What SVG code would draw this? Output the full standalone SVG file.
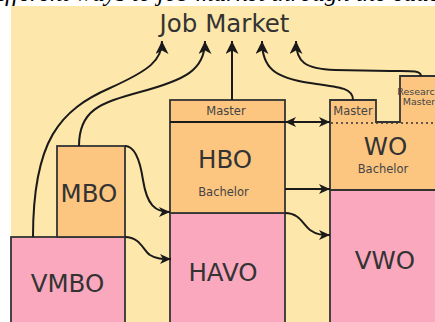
<svg xmlns="http://www.w3.org/2000/svg" width="435" height="322" viewBox="0 0 435 322">
<style>
.bg{fill:#fde7aa}
.pink{fill:#f9a8be;stroke:#333;stroke-width:1.8}
.orange{fill:#fcc681;stroke:#333;stroke-width:1.8}
.big{font-family:"DejaVu Sans",sans-serif;font-size:24.5px;fill:#333;text-anchor:middle}
.small{font-family:"DejaVu Sans",sans-serif;font-size:11.5px;fill:#444;text-anchor:middle}
.tiny{font-family:"DejaVu Sans",sans-serif;font-size:9.5px;fill:#444;text-anchor:middle}
.con{fill:none;stroke:#1a1a1a;stroke-width:2}
</style>
<defs>
<marker id="ah" markerUnits="userSpaceOnUse" markerWidth="14" markerHeight="13" refX="13" refY="6.5" orient="auto">
<path d="M0,0 L13,6.5 L0,13 L3.5,6.5 Z" fill="#1a1a1a"/>
</marker>
<marker id="ahs" markerUnits="userSpaceOnUse" markerWidth="12" markerHeight="10" refX="11" refY="5" orient="auto-start-reverse">
<path d="M0,0 L11,5 L0,10 L3,5 Z" fill="#1a1a1a"/>
</marker>
</defs>
<rect width="435" height="322" fill="#fff"/>
<text x="-20" y="1" font-family="Liberation Serif,serif" font-style="italic" font-size="25" fill="#000">Different ways to job market through the education system</text>
<rect class="bg" x="11" y="6" width="430" height="320"/>
<text class="big" x="224.5" y="32" font-size="26">Job Market</text>

<g id="vmbo"><rect class="pink" x="11" y="237" width="114" height="90"/><text class="big" x="67.5" y="292">VMBO</text></g>
<g id="mbo"><rect class="orange" x="57" y="146" width="68" height="91"/><text class="big" x="89" y="202">MBO</text></g>
<g id="havo"><rect class="pink" x="170" y="213" width="115" height="114"/><text class="big" x="223" y="281">HAVO</text></g>
<g id="hbo"><rect class="orange" x="170" y="100" width="115" height="113"/><line x1="170" y1="122" x2="285" y2="122" stroke="#1a1a1a" stroke-width="2"/><text class="small" x="226" y="115">Master</text><text class="big" x="225" y="168">HBO</text><text class="small" x="223.5" y="196">Bachelor</text></g>
<g id="vwo"><rect class="pink" x="330" y="190" width="110" height="137"/><text class="big" x="385" y="269">VWO</text></g>
<g id="wo"><path class="orange" d="M330,100 L376,100 L376,122 L400,122 L400,76 L440,76 L440,190 L330,190 Z"/><line x1="331" y1="123" x2="435" y2="123" stroke="#333" stroke-width="1.6" stroke-dasharray="2,3"/><text class="small" x="353" y="115">Master</text><text class="tiny" x="419" y="95">Research</text><text class="tiny" x="419" y="105">Master</text><text class="big" x="385.5" y="155">WO</text><text class="small" x="383" y="173">Bachelor</text></g>

<g id="connectors">
<path class="con" marker-end="url(#ah)" d="M33,237 C33,140 60,110 110,88 C150,70 162,60 162,41"/>
<path class="con" marker-end="url(#ah)" d="M79,146 C79,110 100,103 140,92 C185,80 205,70 205,41"/>
<path class="con" marker-end="url(#ah)" d="M232,100 L232,41"/>
<path class="con" marker-end="url(#ah)" d="M353,100 C353,88 340,87 310,83 C275,78 262,68 262,41"/>
<path class="con" marker-end="url(#ah)" d="M421,76 C421,70 410,71 390,71 L335,70 C305,69 296,62 296,41"/>
<path class="con" marker-end="url(#ahs)" d="M125,146 C135,146 140,160 143,180 C147,205 155,212 170,212"/>
<path class="con" marker-end="url(#ahs)" d="M285,213 C300,213 303,225 310,230 C317,235 322,235 330,235"/>
<path class="con" marker-end="url(#ahs)" d="M125,237 C140,237 143,250 150,255 C156,259 162,259 171,259"/>
<path class="con" marker-start="url(#ahs)" marker-end="url(#ahs)" d="M285,122 L330,122"/>
<path class="con" marker-end="url(#ahs)" d="M285,189 L330,189"/>
</g>
</svg>
